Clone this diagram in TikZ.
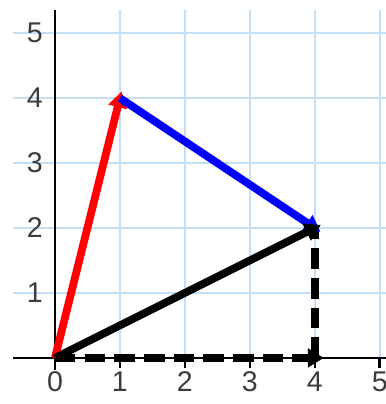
\documentclass[tikz,border=0pt]{standalone}
\usepackage{fontspec}
\setmainfont{Liberation Sans}
\usetikzlibrary{arrows.meta}
\definecolor{gridblue}{RGB}{195,222,245}
\definecolor{labelgray}{RGB}{60,60,60}
\tikzset{
  gridline/.style={gridblue, line width=0.7pt},
  axisline/.style={black, line width=1.1pt},
  vec/.style={line width=3.4pt, shorten >=-3pt, -{Triangle[length=7pt,width=8pt]}},
  compvec/.style={line width=3.4pt, dash pattern=on 9pt off 4pt},
  numlabel/.style={text=labelgray, font=\fontsize{12.5}{14}\selectfont, inner sep=0pt},
}
\begin{document}
\begin{tikzpicture}
\useasboundingbox (-0.846,-0.71) rectangle (5.09,5.51);
% grid
\foreach \i in {1,...,5} {
  \draw[gridline] (-0.65,\i) -- (5.09,\i);
  \draw[gridline] (\i,0) -- (\i,5.35);
}
% axes
\draw[axisline] (-0.65,0) -- (5.09,0);
\draw[axisline] (0,-0.18) -- (0,5.35);
\foreach \i in {1,...,5}
  \draw[axisline] (\i,0) -- (\i,-0.16);
% numbers
\foreach \i in {0,...,5}
  \node[numlabel] (x\i) at (\i,-0.37) {\i};
\foreach \i in {1,...,5}
  \node[numlabel] (y\i) at (-0.31,\i) {\i};
% vectors
\coordinate (O) at (0,0);
\coordinate (P) at (1,4);
\coordinate (Q) at (4,2);
\coordinate (R) at (4,0);
\draw[compvec] (R) -- (Q);
\draw[compvec, shorten >=-4pt, -{Triangle[length=7pt,width=8pt]}] (O) -- (R);
\draw[vec, red] (O) -- (P);
\draw[vec, blue] (P) -- (Q);
\draw[vec, black] (O) -- (Q);
\end{tikzpicture}
\end{document}
